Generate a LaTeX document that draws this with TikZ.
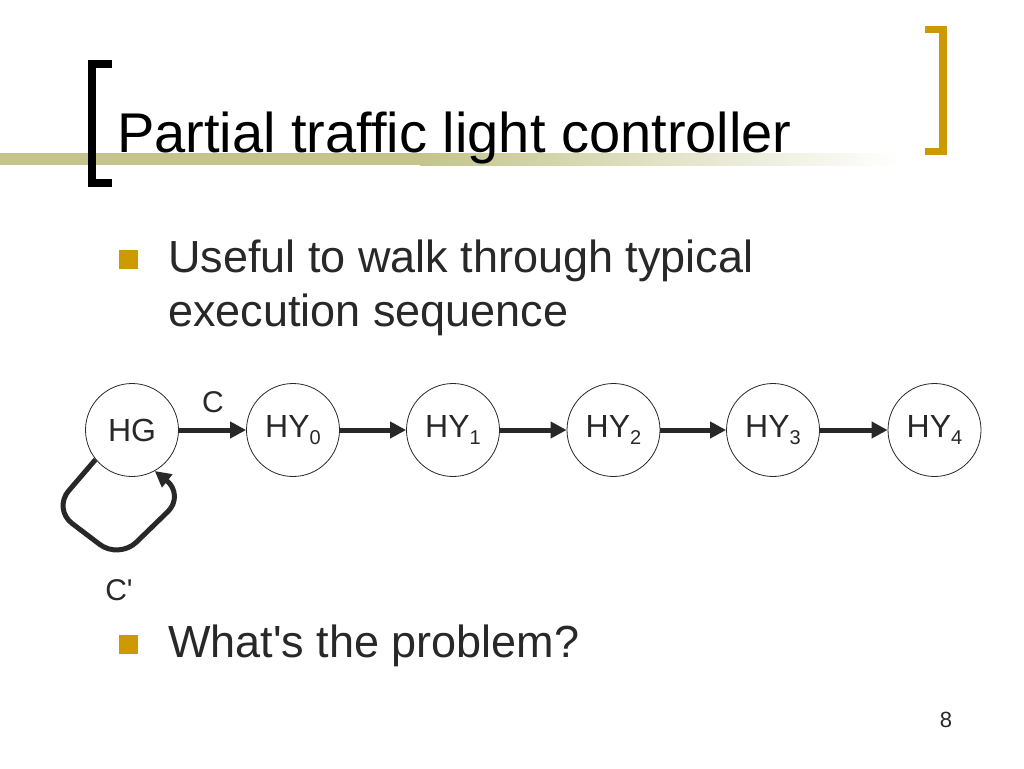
\documentclass[tikz,border=0pt]{standalone}
\usepackage{fontspec}
\setmainfont{Liberation Sans}[Ligatures=TeXOff]
\usetikzlibrary{arrows.meta}
\definecolor{txt}{RGB}{40,40,40}
\definecolor{gold}{RGB}{204,153,0}
\definecolor{olive}{RGB}{196,196,140}
\definecolor{edge}{RGB}{40,40,40}
\tikzset{
  state/.style={circle, draw=edge, line width=0.8pt, minimum size=93pt, inner sep=0pt, text=txt, font=\fontsize{32}{32}\selectfont},
  trans/.style={draw=edge, line width=5pt, -{Triangle[length=16pt,width=16pt]}},
  lbl/.style={text=txt, font=\fontsize{30}{30}\selectfont, inner sep=0pt},
  bodytext/.style={text=txt, font=\fontsize{45}{54}\selectfont, anchor=base west, inner sep=0pt, align=left},
  bulletbox/.style={fill=gold, draw=none, minimum size=19pt, inner sep=0pt}
}
\newcommand{\sbs}[1]{\raisebox{-7pt}{\fontsize{20}{20}\selectfont #1}}
\begin{document}
\begin{tikzpicture}[x=1pt,y=-1pt]
\useasboundingbox (0,0) rectangle (1024,768);
\fill[white] (0,0) rectangle (1024,768);
% gradient rule
\fill[olive] (0,153) rectangle (420,165);
\shade[left color=olive, right color=white] (420,153) rectangle (900,165);
% black bracket
\fill[black] (88,60) rectangle (96,187);
\fill[black] (88,60) rectangle (112,68);
\fill[black] (88,179) rectangle (112,187);
% gold bracket
\fill[gold] (939,26) rectangle (947,155);
\fill[gold] (925,26) rectangle (947,33);
\fill[gold] (925,148) rectangle (947,155);
% title
\node[anchor=base west, inner sep=0pt, text=black, font=\fontsize{56}{56}\selectfont] (title) at (117,152) {Partial traffic light controller};
% bullets
\node[bulletbox] (b1) at (128.5,259.5) {};
\node[bodytext] (t1) at (168,272) {Useful to walk through typical};
\node[bodytext] (t2) at (168,326) {execution sequence};
\node[bulletbox] (b2) at (128.5,644.5) {};
\node[bodytext] (t3) at (168,657) {What's the problem?};
% states
\node[state] (hg) at (132,430) {HG};
\node[state] (hy0) at (293,430) {HY\sbs{0}};
\node[state] (hy1) at (453,430) {HY\sbs{1}};
\node[state] (hy2) at (613.5,430) {HY\sbs{2}};
\node[state] (hy3) at (773,430) {HY\sbs{3}};
\node[state] (hy4) at (934.5,430) {HY\sbs{4}};
\draw[trans] (hg) -- (hy0);
\draw[trans] (hy0) -- (hy1);
\draw[trans] (hy1) -- (hy2);
\draw[trans] (hy2) -- (hy3);
\draw[trans] (hy3) -- (hy4);
\node[lbl] (c) at (213,402) {C};
% self loop
\coordinate (l1) at (53,509);
\coordinate (l2) at (119,559);
\coordinate (l3) at (185,495);
\draw[trans, rounded corners=24pt] (hg.219) -- (l1) -- (l2) -- (l3) -- (hg.299);
\node[lbl] (cp) at (119,590) {C'};
% page number
\node[text=txt, font=\fontsize{22}{22}\selectfont, inner sep=0pt] (pg) at (946,720) {8};
\end{tikzpicture}
\end{document}
